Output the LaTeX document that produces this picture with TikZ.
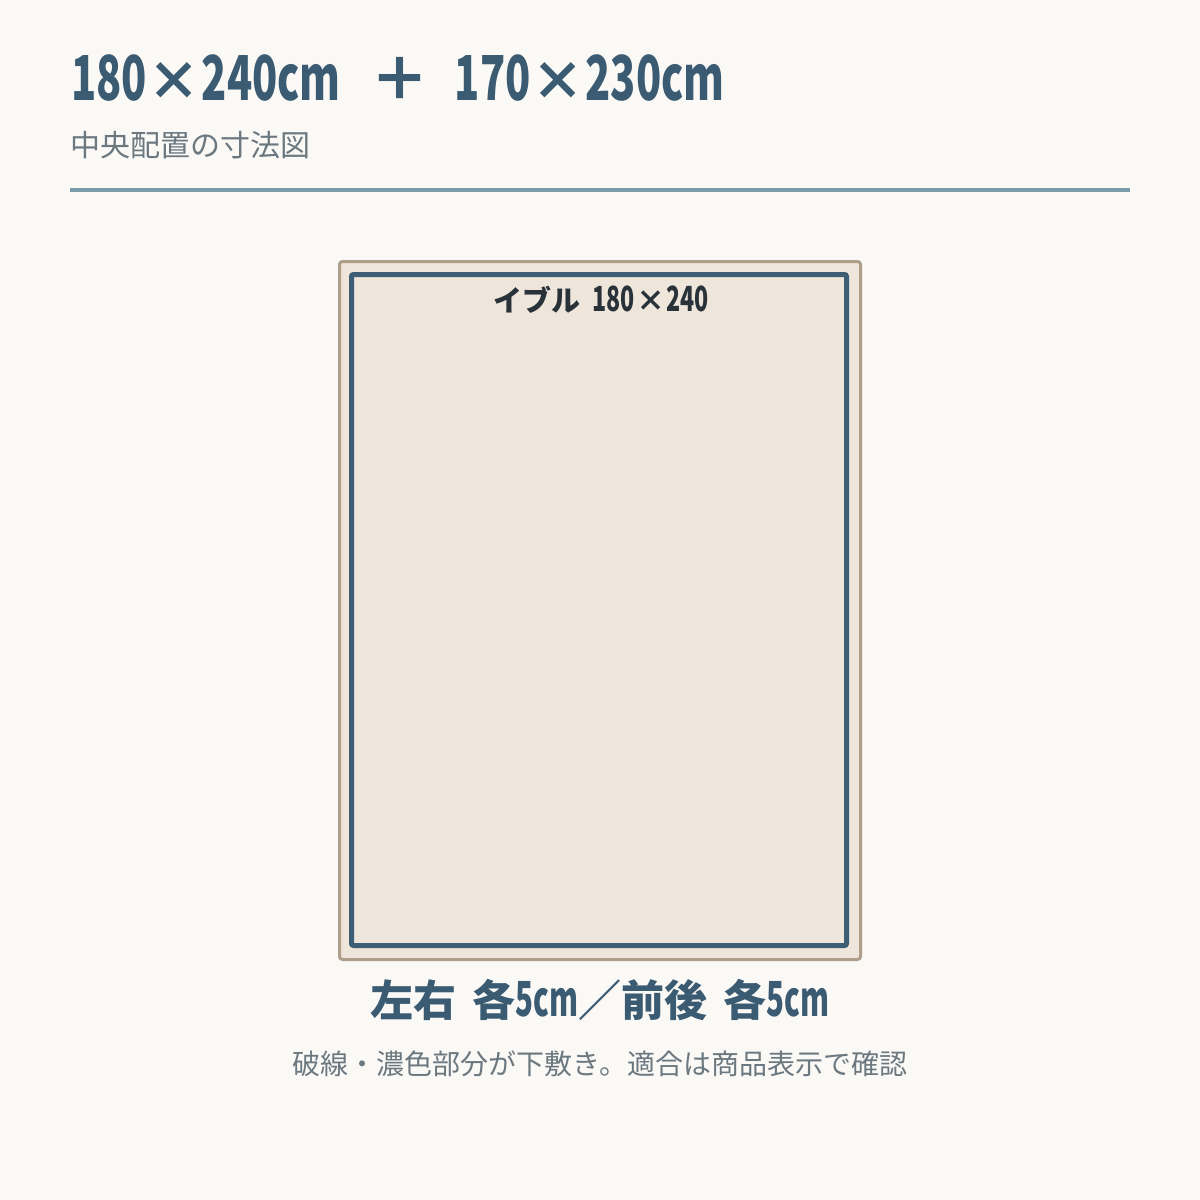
\documentclass[tikz,border=0pt]{standalone}
\usepackage{fontspec}
\setmainfont{Noto Sans CJK JP}
\newfontfamily\lat[FakeStretch=0.67,Scale=1.05]{Noto Sans CJK JP}
\newfontfamily\latb[FakeStretch=0.61,Scale=1.05]{Noto Sans CJK JP}
\definecolor{bgc}{HTML}{FAF9F6}
\definecolor{titlec}{HTML}{3A5B72}
\definecolor{subc}{HTML}{6C7880}
\definecolor{rulec}{HTML}{7B9CAB}
\definecolor{tanc}{HTML}{B09F88}
\definecolor{fillc}{HTML}{EFE6DB}
\definecolor{innerc}{HTML}{3D5E75}
\definecolor{labelc}{HTML}{283238}
\begin{document}
\begin{tikzpicture}[x=0.5pt,y=-0.5pt,
  txt/.style={inner sep=0pt,outer sep=0pt},
  outerrug/.style={draw=tanc,fill=fillc,line width=1.5pt,rounded corners=1.5pt},
  innerrug/.style={draw=innerc,line width=2.5pt,rounded corners=1pt}]
\fill[bgc] (0,0) rectangle (1200,1200);
\useasboundingbox (0,0) rectangle (1200,1200);
% title
\node[txt,anchor=west,text=titlec,font=\bfseries\fontsize{29.5pt}{30pt}\selectfont] (title) at (71,78)
  {{\lat 180}\makebox[27.5pt][c]{\scalebox{0.9}{×}}{\lat 240cm}\hspace{15pt}＋\hspace{12.5pt}{\lat 170}\makebox[27.5pt][c]{\scalebox{0.9}{×}}{\lat 230cm}};
\node[txt,anchor=west,text=subc,font=\fontsize{15pt}{15pt}\selectfont] (sub) at (70,145) {中央配置の寸法図};
\draw[rulec,line width=2.2pt] (70,190) coordinate (rl) -- (1130,190) coordinate (rr);
% rugs
\draw[outerrug] (339.5,261.5) rectangle (860.5,959.5);
\draw[innerrug] (351.5,274.5) rectangle (846.5,945.5);
\node[txt,text=labelc,font=\bfseries\fontsize{14.5pt}{15pt}\selectfont] (lbl) at (601,300)
  {イブル\hspace{6pt}{\lat\fontsize{16.5pt}{17pt}\selectfont 180}\makebox[16pt][c]{×}{\lat\fontsize{16.5pt}{17pt}\selectfont 240}};
% bottom
\node[txt,text=titlec,font=\bfseries\fontsize{21.5pt}{22pt}\selectfont] (dims) at (600,1000)
  {左右\hspace{8pt}各{\latb\fontsize{23pt}{24pt}\selectfont 5cm}／前後\hspace{8pt}各{\latb\fontsize{23pt}{24pt}\selectfont 5cm}};
\node[txt,text=subc,font=\fontsize{14pt}{14pt}\selectfont] (note) at (600,1064)
  {破線・濃色部分が下敷き。適合は商品表示で確認};
\end{tikzpicture}
\end{document}
